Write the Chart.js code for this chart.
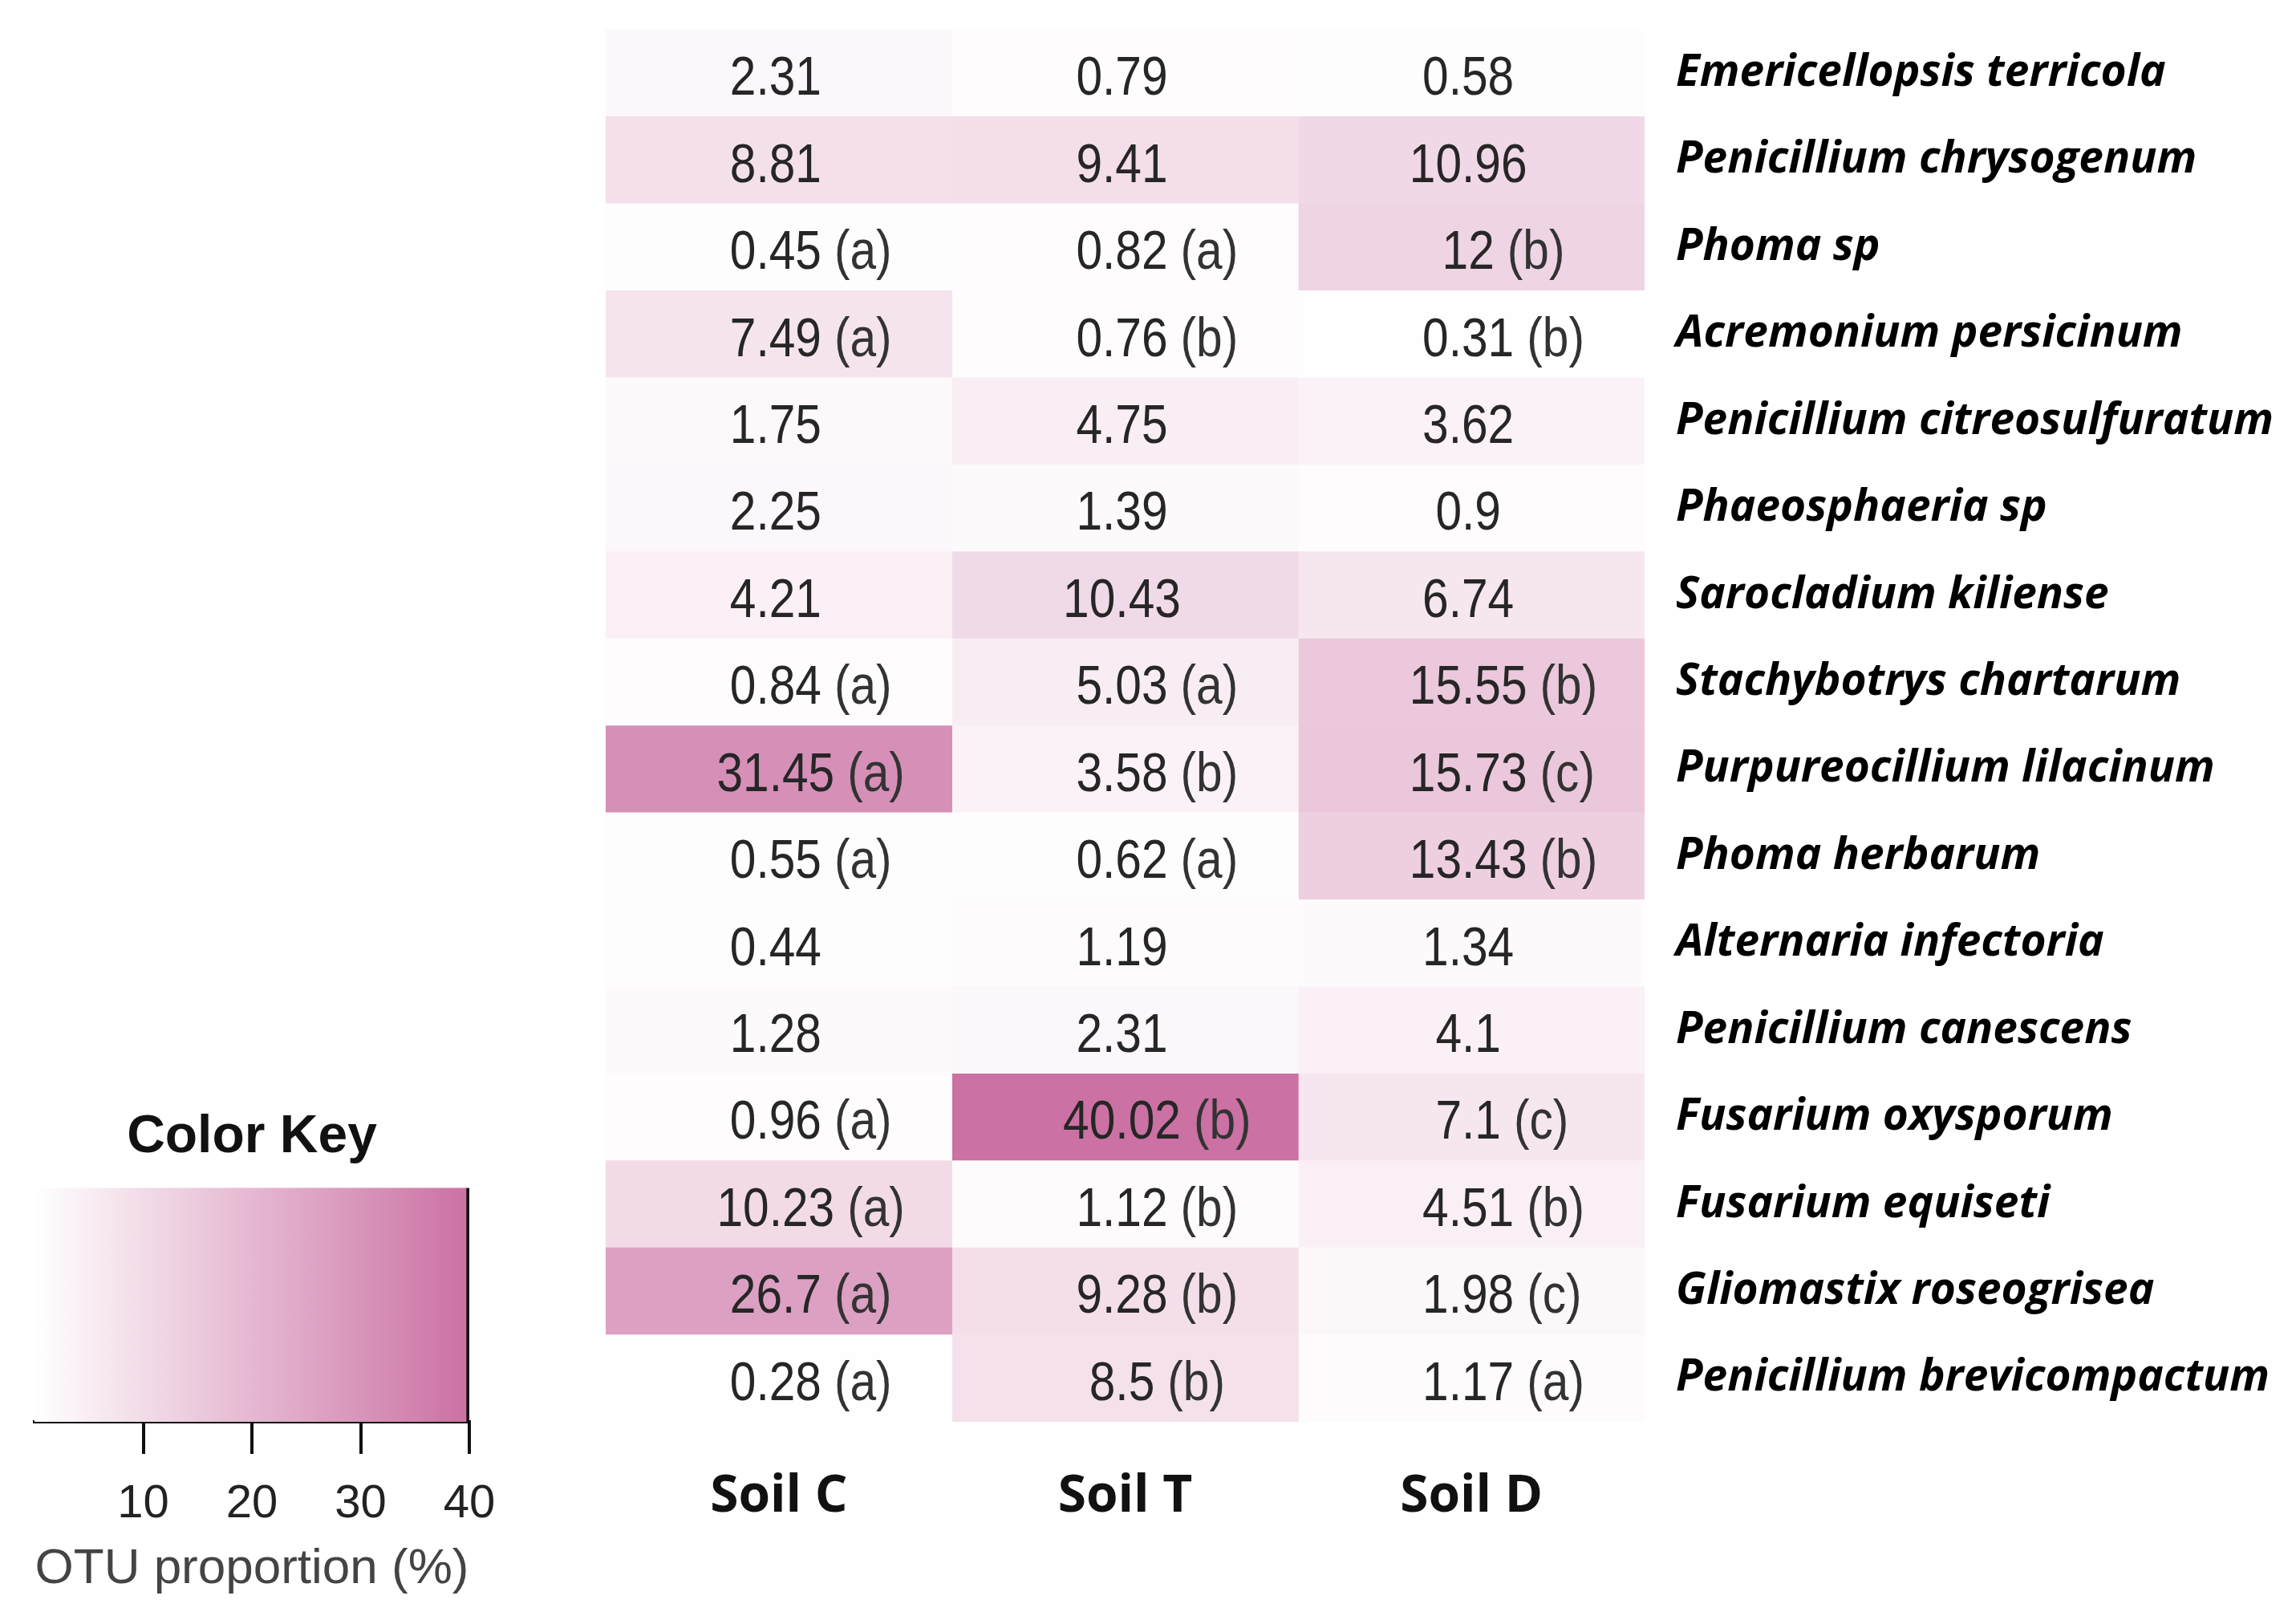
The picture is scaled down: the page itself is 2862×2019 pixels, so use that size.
<!DOCTYPE html>
<html>
<head>
<meta charset="utf-8">
<script src="https://cdn.jsdelivr.net/npm/chart.js@4.4.1/dist/chart.umd.min.js"></script>
<style>
  html, body { margin: 0; padding: 0; background: #fff; }
  body { width: 2862px; height: 2019px; position: relative; overflow: hidden; }
  #heatBox { position: absolute; left: 755px; top: 37px; width: 2107px; height: 1982px; }
  #keyBox { position: absolute; left: 0px; top: 1340px; width: 628px; height: 679px; }
</style>
</head>
<body>
<div id="heatBox"><canvas id="heat"></canvas></div>
<div id="keyBox"><canvas id="key"></canvas></div>
<script>
// species shown top to bottom
const species = [
  'Emericellopsis terricola', 'Penicillium chrysogenum', 'Phoma sp', 'Acremonium persicinum',
  'Penicillium citreosulfuratum', 'Phaeosphaeria sp', 'Sarocladium kiliense', 'Stachybotrys chartarum',
  'Purpureocillium lilacinum', 'Phoma herbarum', 'Alternaria infectoria', 'Penicillium canescens',
  'Fusarium oxysporum', 'Fusarium equiseti', 'Gliomastix roseogrisea', 'Penicillium brevicompactum'
];
const soils = ['Soil C', 'Soil T', 'Soil D'];

// OTU proportion (%)
const soilC = [2.31, 8.81, 0.45, 7.49, 1.75, 2.25, 4.21, 0.84, 31.45, 0.55, 0.44, 1.28, 0.96, 10.23, 26.7, 0.28];
const soilT = [0.79, 9.41, 0.82, 0.76, 4.75, 1.39, 10.43, 5.03, 3.58, 0.62, 1.19, 2.31, 40.02, 1.12, 9.28, 8.5];
const soilD = [0.58, 10.96, 12, 0.31, 3.62, 0.9, 6.74, 15.55, 15.73, 13.43, 1.34, 4.1, 7.1, 4.51, 1.98, 1.17];

// significance letters
const letC = ['', '', 'a', 'a', '', '', '', 'a', 'a', 'a', '', '', 'a', 'a', 'a', 'a'];
const letT = ['', '', 'a', 'b', '', '', '', 'a', 'b', 'a', '', '', 'b', 'b', 'b', 'b'];
const letD = ['', '', 'b', 'b', '', '', '', 'b', 'c', 'b', '', '', 'c', 'b', 'c', 'a'];

// colour key
const keyMin = 0;
const keyMax = 40;
const keyTicks = [10, 20, 30, 40];

const values = [soilC, soilT, soilD];
const letters = [letC, letT, letD];

const lowRGB = [255, 255, 255];
const highRGB = [203, 113, 163];

function cellColor(v) {
  const t = Math.max(0, Math.min(1, (v - keyMin) / (keyMax - keyMin)));
  const c = lowRGB.map((lo, i) => Math.round(lo + (highRGB[i] - lo) * t));
  return 'rgb(' + c.join(',') + ')';
}

// drop the half-label padding chart.js adds around an axis
function noPad(s) {
  s.paddingTop = 0; s.paddingBottom = 0; s.paddingLeft = 0; s.paddingRight = 0;
}

// number centred in the cell, letter right after it; narrow like the original
const squeeze = 0.85;
const cellText = {
  id: 'cellText',
  afterDatasetsDraw(chart) {
    const ctx = chart.ctx;
    ctx.save();
    ctx.font = '69px "Liberation Sans", Arial, sans-serif';
    ctx.textBaseline = 'alphabetic';
    chart.data.datasets.forEach((ds, k) => {
      chart.getDatasetMeta(k).data.forEach((bar, i) => {
        const p = bar.getProps(['x', 'y', 'base'], true);
        const cx = (p.x + p.base) / 2 - 4;
        const cy = p.y + 27;
        const num = String(values[k][i]);
        const w = ctx.measureText(num).width * squeeze;
        ctx.save();
        ctx.translate(cx - w / 2, cy);
        ctx.scale(squeeze, 1);
        ctx.textAlign = 'left';
        ctx.fillStyle = '#262626';
        ctx.fillText(num, 0, 0);
        if (letters[k][i]) {
          ctx.fillStyle = '#333';
          ctx.fillText('(' + letters[k][i] + ')', (w + 16) / squeeze, 0);
        }
        ctx.restore();
      });
    });
    ctx.restore();
  }
};

new Chart(document.getElementById('heat'), {
  type: 'bar',
  data: {
    labels: species,
    datasets: values.map((vals, k) => ({
      label: soils[k],
      data: vals.map(() => 1),
      backgroundColor: vals.map(cellColor),
      borderWidth: 0,
      barPercentage: 1,
      categoryPercentage: 1
    }))
  },
  options: {
    indexAxis: 'y',
    responsive: true,
    maintainAspectRatio: false,
    animation: false,
    layout: { padding: 0 },
    plugins: { legend: { display: false }, tooltip: { enabled: false } },
    scales: {
      x: {
        type: 'linear',
        stacked: true,
        min: 0,
        max: soils.length,
        position: 'bottom',
        grid: { display: false, drawTicks: false },
        border: { display: false },
        afterBuildTicks: s => { s.ticks = soils.map((_, i) => ({ value: i + 0.5 })); },
        afterFit: s => { s.height = 247; noPad(s); },
        ticks: {
          maxRotation: 0,
          autoSkip: false,
          padding: 55,
          color: '#111',
          font: { family: '"Open Sans", "DejaVu Sans", sans-serif', weight: 'bold', size: 64 },
          callback: v => soils[Math.floor(v)]
        }
      },
      y: {
        stacked: true,
        position: 'right',
        grid: { display: false, drawTicks: false },
        border: { display: false },
        afterFit: s => { s.width = 812; noPad(s); },
        ticks: {
          padding: 39,
          color: '#000',
          font: { family: '"Open Sans", "DejaVu Sans", sans-serif', weight: 'bold', style: 'italic', size: 55 }
        }
      }
    }
  },
  plugins: [cellText]
});

function keyGradient(chart) {
  const a = chart.chartArea;
  if (!a) return cellColor(keyMax / 2);
  const g = chart.ctx.createLinearGradient(a.left, 0, a.right, 0);
  g.addColorStop(0, cellColor(keyMin));
  g.addColorStop(1, cellColor(keyMax));
  return g;
}

new Chart(document.getElementById('key'), {
  type: 'bar',
  data: {
    labels: [''],
    datasets: [{
      data: [[keyMin, keyMax]],
      backgroundColor: c => keyGradient(c.chart),
      borderColor: '#111',
      borderWidth: { left: 0, top: 0, bottom: 0, right: 4 },
      borderSkipped: false,
      barPercentage: 1,
      categoryPercentage: 1
    }]
  },
  options: {
    indexAxis: 'y',
    responsive: true,
    maintainAspectRatio: false,
    animation: false,
    layout: { padding: { left: 43, right: 43, top: 0, bottom: 0 } },
    plugins: {
      legend: { display: false },
      tooltip: { enabled: false },
      title: {
        display: true,
        text: 'Color Key',
        color: '#111',
        font: { family: '"Liberation Sans", Arial, sans-serif', weight: 'bold', size: 66 },
        padding: { top: 38, bottom: 23 }
      }
    },
    scales: {
      x: {
        type: 'linear',
        min: keyMin,
        max: keyMax,
        afterBuildTicks: s => { s.ticks = keyTicks.map(v => ({ value: v })); },
        afterFit: s => { s.height = 247; noPad(s); },
        grid: { drawOnChartArea: false, drawTicks: true, tickLength: 40, color: '#111', lineWidth: 4 },
        border: { display: true, color: '#111', width: 4 },
        ticks: {
          padding: 28,
          color: '#222',
          font: { family: '"Liberation Sans", Arial, sans-serif', size: 58 }
        },
        title: {
          display: true,
          text: 'OTU proportion (%)',
          color: '#444',
          font: { family: '"Liberation Sans", Arial, sans-serif', size: 62 },
          padding: { top: 0, bottom: 26 }
        }
      },
      y: { display: false }
    }
  }
});
</script>
</body>
</html>
